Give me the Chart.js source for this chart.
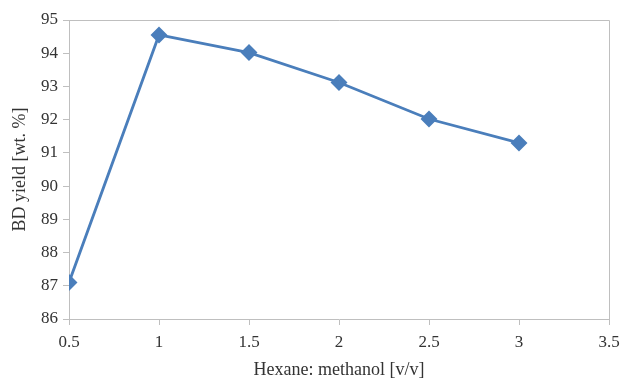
<!DOCTYPE html>
<html>
<head>
<meta charset="utf-8">
<script src="https://cdn.jsdelivr.net/npm/chart.js@4/dist/chart.umd.min.js"></script>
<style>
html,body{margin:0;padding:0;background:#fff;}
#wrap{width:623px;height:378px;}
</style>
</head>
<body>
<div id="wrap"><canvas id="c" width="623" height="378"></canvas></div>
<script>
const ratios = [0.5, 1, 1.5, 2, 2.5, 3];
const yieldValues = [87.1, 94.55, 94.02, 93.12, 92.02, 91.3];
const xTicks = [0.5, 1, 1.5, 2, 2.5, 3, 3.5];
const yTicks = [86, 87, 88, 89, 90, 91, 92, 93, 94, 95];
const xTitle = 'Hexane: methanol [v/v]';
const yTitle = 'BD yield [wt. %]';

const FONT = "'Liberation Serif', 'DejaVu Serif', serif";
const AXIS = '#bfbfbf';
const TEXT = '#333333';

const boxPlugin = {
  id: 'box',
  afterDraw(chart) {
    const {ctx, chartArea: a} = chart;
    ctx.save();
    ctx.strokeStyle = AXIS;
    ctx.lineWidth = 1;
    ctx.beginPath();
    ctx.moveTo(a.left, a.top + 0.5);
    ctx.lineTo(a.right + 0.5, a.top + 0.5);
    ctx.lineTo(a.right + 0.5, a.bottom);
    ctx.stroke();
    ctx.restore();
  }
};

new Chart(document.getElementById('c'), {
  type: 'line',
  data: {
    datasets: [{
      data: ratios.map((x, i) => ({x: x, y: yieldValues[i]})),
      borderColor: '#4a7ebb',
      backgroundColor: '#4a7ebb',
      borderWidth: 2.8,
      pointStyle: 'rectRot',
      pointRadius: 6.5,
      pointHoverRadius: 6.5,
      tension: 0
    }]
  },
  options: {
    responsive: false,
    animation: false,
    devicePixelRatio: 1,
    layout: {padding: {top: 20, right: 14, left: 0, bottom: 0}},
    plugins: {legend: {display: false}, tooltip: {enabled: false}},
    scales: {
      x: {
        type: 'linear',
        min: 0.5, max: 3.5,
        afterBuildTicks(s) { s.ticks = xTicks.map(v => ({value: v})); },
        afterFit(s) { s.height = 59; s.paddingLeft = 0; s.paddingRight = 0; },
        grid: {display: true, drawOnChartArea: false, drawTicks: true, tickLength: 6, color: AXIS},
        border: {display: true, color: AXIS},
        ticks: {font: {family: FONT, size: 17}, color: TEXT, padding: 7, maxRotation: 0,
                callback: v => String(v)},
        title: {display: true, text: xTitle, font: {family: FONT, size: 18}, color: TEXT, padding: {top: 0, bottom: -3}}
      },
      y: {
        min: 86, max: 95,
        afterBuildTicks(s) { s.ticks = yTicks.map(v => ({value: v})); },
        afterFit(s) { s.width = 69; s.paddingTop = 0; s.paddingBottom = 0; },
        grid: {display: true, drawOnChartArea: false, drawTicks: true, tickLength: 6, color: AXIS},
        border: {display: true, color: AXIS},
        ticks: {font: {family: FONT, size: 17}, color: TEXT, padding: 5, callback: v => String(v)},
        title: {display: true, text: yTitle, font: {family: FONT, size: 18}, color: TEXT, padding: {top: 9, bottom: 4}}
      }
    }
  },
  plugins: [boxPlugin]
});
</script>
</body>
</html>
